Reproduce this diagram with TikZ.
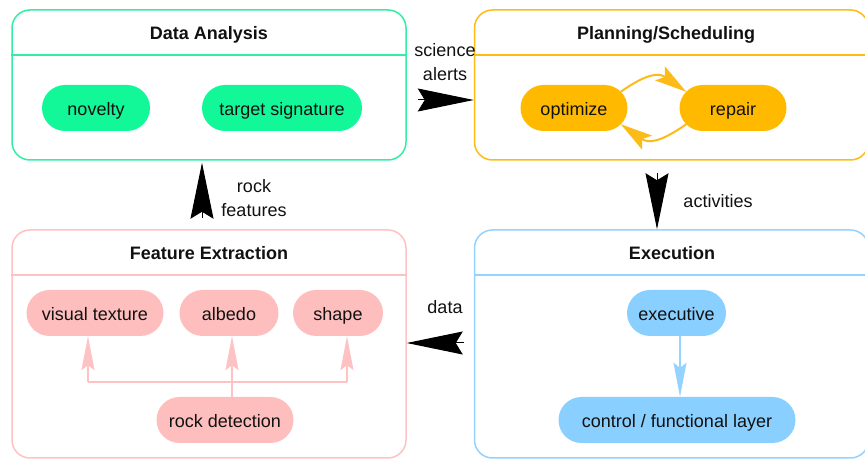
\documentclass[tikz,border=0pt]{standalone}
\usepackage{fontspec}
\setmainfont{Liberation Sans}
\usetikzlibrary{arrows.meta,positioning}
\definecolor{mint}{HTML}{12F898}
\definecolor{mintline}{HTML}{34EDA4}
\definecolor{gold}{HTML}{FFBA00}
\definecolor{goldline}{HTML}{FDBB18}
\definecolor{rose}{HTML}{FFBEBE}
\definecolor{roseline}{HTML}{FFC2C2}
\definecolor{sky}{HTML}{89CFFF}
\definecolor{skyline}{HTML}{94D2FF}
\definecolor{ink}{HTML}{111111}

\begin{document}
\begin{tikzpicture}[x=1pt,y=1pt,
  panel/.style={draw, line width=1.5pt, rounded corners=18pt, minimum width=394pt, inner sep=0pt},
  head/.style={font=\fontsize{18}{22}\selectfont\bfseries, color=ink, anchor=base},
  pill/.style={rectangle, rounded corners=23pt, minimum height=46pt, inner sep=0pt,
    text height=20pt, text depth=4pt, font=\fontsize{18}{22}\selectfont, text=ink},
  note/.style={font=\fontsize{18}{24}\selectfont, color=ink, align=center},
  flow/.style={-{Stealth[length=56pt,width=23pt,inset=7pt]}, line width=1pt, black},
  roselink/.style={roseline, line width=1.5pt},
  rosearrow/.style={roselink, -{Stealth[length=34pt,width=13pt,inset=5pt]}},
  skyarrow/.style={skyline, line width=1.5pt, -{Stealth[length=34pt,width=13pt,inset=5pt]}},
  goldarrow/.style={goldline, line width=2pt, -{Stealth[length=32pt,width=17pt,inset=6pt]}}]
  \useasboundingbox (0,0) rectangle (865,460);
  \clip (0,0) rectangle (865,460);

  \node[panel, draw=mintline, minimum height=150pt] (da) at (209,375) {};
  \node[panel, draw=goldline, minimum height=150pt] (ps) at (671.5,375) {};
  \node[panel, draw=roseline, minimum height=228pt] (fe) at (209,116) {};
  \node[panel, draw=skyline, minimum height=228pt] (ex) at (671.5,116) {};
  \foreach \p/\c/\y in {da/mintline/405, ps/goldline/405, fe/roseline/185, ex/skyline/185}
    \draw[\c, line width=1.5pt] (\p.west |- 0,\y) -- (\p.east |- 0,\y);

  \node[head] (daT) at (209,420) {Data Analysis};
  \node[head] (psT) at (666,420) {Planning/Scheduling};
  \node[head] (feT) at (209,200) {Feature Extraction};
  \node[head] (exT) at (672,200) {Execution};

  \node[pill, fill=mint, minimum width=108pt] (novelty) at (96,352) {novelty};
  \node[pill, fill=mint, minimum width=160pt] (target) at (282,352) {target signature};
  \node[pill, fill=gold, minimum width=107pt] (opt) at (574,352) {optimize};
  \node[pill, fill=gold, minimum width=107pt] (rep) at (733,352) {repair};
  \node[pill, fill=rose, minimum width=137pt] (vis) at (95,147) {visual texture};
  \node[pill, fill=rose, minimum width=99pt] (alb) at (229,147) {albedo};
  \node[pill, fill=rose, minimum width=90pt] (shp) at (338,147) {shape};
  \node[pill, fill=rose, minimum width=137pt] (rock) at (225,40) {rock detection};
  \node[pill, fill=sky, minimum width=99pt] (exec) at (676.5,147) {executive};
  \node[pill, fill=sky, minimum width=237pt] (ctl) at (677,40) {control / functional layer};

  \draw[goldarrow] ([shift={(-7,-7)}]opt.north east) to[bend left=35, looseness=1.3] ([shift={(7,-7)}]rep.north west);
  \draw[goldarrow] ([shift={(7,7)}]rep.south west) to[bend left=35, looseness=1.3] ([shift={(-7,7)}]opt.south east);

  \coordinate (fork) at (232,78);
  \coordinate (forkL) at (88,78);
  \coordinate (forkR) at (347,78);
  \draw[roselink] (rock.north -| fork) -- (fork);
  \draw[roselink] (forkL) -- (forkR);
  \draw[rosearrow] (fork) -- (fork |- alb.south);
  \draw[rosearrow] (forkL) -- (forkL |- vis.south);
  \draw[rosearrow] (forkR) -- (forkR |- shp.south);

  \draw[skyarrow] ([xshift=3.5pt]exec.south) -- ([xshift=3.5pt]exec.south |- ctl.north);

  \coordinate (sa) at (418,360);
  \coordinate (act) at (657,287);
  \coordinate (rf) at (202,242);
  \coordinate (dt) at (464,117);
  \draw[flow] (sa) -- (sa -| ps.west);
  \draw[flow] (act) -- (act |- ex.north);
  \draw[flow] (rf) -- ([yshift=-2pt]rf |- da.south);
  \draw[flow] (dt) -- (dt -| fe.east);

  \node[note] (saL) at (445,398) {science\\alerts};
  \node[note] (actL) at (718,259) {activities};
  \node[note] (rfL) at (254,262) {rock\\features};
  \node[note] (dtL) at (445,153) {data};
\end{tikzpicture}
\end{document}
